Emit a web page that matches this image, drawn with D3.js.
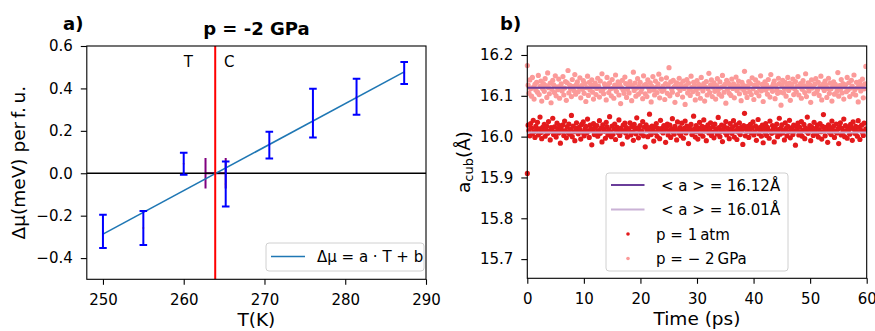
<!DOCTYPE html>
<html>
<head>
<meta charset="utf-8">
<script src="https://cdn.jsdelivr.net/npm/d3@7"></script>
<style>
  body { margin: 0; background: #fff; }
  svg { display: block; font-family: "DejaVu Sans", sans-serif; }
</style>
</head>
<body>
<svg id="chart" width="875" height="331"></svg>
<script>
// ---- panel a) chemical potential difference vs temperature ----
const tempK = [250, 255, 260, 265.2, 270.6, 276, 281.4, 287.3];
const deltaMu = [-0.274, -0.258, 0.045, -0.051, 0.133, 0.283, 0.361, 0.473];
const deltaMuErr = [0.078, 0.08, 0.052, 0.106, 0.063, 0.115, 0.085, 0.052];
const fitT = [250, 287.3];
const fitMu = [-0.287, 0.478];
const transitionT = 263.9;
const coexistT = [262.7, 265.2];
const coexistErr = 0.072;
const tempTicks = [250, 260, 270, 280, 290];
const muTicks = [-0.4, -0.2, 0, 0.2, 0.4, 0.6];

// ---- panel b) lattice parameter vs time ----
const timeStep = 0.15; // ps between samples
const meanNeg2GPa = 16.12;
const mean1atm = 16.01;
const baseNeg2GPa = 16.114;
const base1atm = 16.01;
// deviations in mÅ
const devNeg2GPa = [
  60, 12, -8, 25, 3, -15, 31, 7, -22, 14, 0, 19, -5, 36, -11, 9, 22, -27, 4, 16,
  -3, 28, 11, -18, 42, 6, -9, 17, -31, 2, 24, 13, -6, 35, -14, 8, 1, 27, -20, 10,
  15, -2, 33, -12, 5, 21, -25, 18, 48, -7, 12, 3, -16, 26, 9, -1, 38, -10, 14, 20,
  -4, 7, 30, -19, 11, 2, 23, -8, 16, -28, 6, 34, -13, 19, 0, 13, 25, -5, -22, 8,
  17, -11, 4, 29, 10, -17, 22, -2, 40, 1, -9, 15, 7, -24, 31, 11, -6, 18, 3, -14,
  26, 5, -20, 12, 37, -3, 9, 20, -12, 14, -33, 6, 24, 0, -8, 32, 16, -18, 2, 11,
  -7, 21, 13, -26, 8, 44, -1, 17, -15, 5, 28, -10, 10, 19, -4, 3, -21, 35, 12, -9,
  14, -16, 25, 6, -2, 18, -29, 9, 33, 0, -12, 22, 7, -6, 15, 39, -19, 4, 27, -3,
  10, 1, -23, 16, 30, -8, 12, 55, -14, 20, 3, -5, 24, 8, -30, 13, 18, -11, 6, 29,
  -1, 15, 9, -17, 22, 4, -35, 11, 26, -7, 17, 2, -13, 34, 7, -4, 19, 12, -24, 0,
  23, -9, 14, 5, -20, 31, 10, -2, 16, -27, 8, 21, -12, 3, 41, -6, 13, 25, -16, 7,
  18, -3, -22, 11, 28, 1, -10, 20, 6, -15, 36, 9, -5, 14, -32, 24, 2, 17, -8, 12,
  -13, 27, 4, 15, -19, 8, 32, -1, 11, 22, -9, 5, -26, 19, 13, 0, 46, -7, 10, -18,
  6, 21, -4, 16, -11, 30, 3, -23, 12, 25, -6, 9, 18, -14, 2, 35, -2, 14, -28, 7,
  20, 0, 13, -10, 26, 5, -17, 38, 8, -3, 15, 22, -21, 11, 1, -8, 29, 16, -5, -37,
  12, 24, -7, 4, 19, -15, 9, 31, -1, 17, -25, 6, 14, 27, -11, 3, 21, -4, 10, 33,
  -12, 8, 16, -20, 2, 23, 11, -6, 40, -16, 7, 18, -2, 13, -30, 25, 5, 9, -9, 15,
  28, -5, 1, 19, -13, 10, 34, -24, 6, 15, -1, 22, 12, -18, 4, 29, -8, 17, 3, -27,
  9, 20, -10, 14, 7, -3, 43, -15, 11, 2, 26, -7, 16, -22, 8, 13, -4, 31, 0, 18,
  -16, 5, 24, 10, -9, 37, 1, -12, 19, 6, -29, 14, 21, -2, 11, 27, -19, 3, 15, 58
];
const dev1atm = [
  -100, 18, 5, -8, 22, 11, -3, 30, 2, -12, 15, 7, 25, -6, 9, 38, 0, -15, 13, 4,
  20, -9, 8, 16, -2, 27, 3, -18, 12, 6, 35, -5, 14, 1, -11, 23, 9, -1, 17, -26,
  10, 3, 19, -7, 28, 5, -13, 14, 0, 21, -4, 8, 42, -10, 16, 2, -20, 11, 24, 6,
  -3, 13, 7, -16, 20, 1, 26, -8, 9, 15, -1, 33, 4, -12, 18, 10, -30, 6, 22, -5,
  12, 0, 17, -9, 5, 29, -2, 11, -23, 19, 8, 3, -14, 25, 14, -6, 7, 39, 1, -10,
  16, -4, 9, 21, -17, 6, 13, 0, 31, -7, 10, 2, -28, 18, 5, 23, -1, 12, -11, 8,
  4, 24, -6, 15, 1, -19, 20, 9, -3, 36, 11, -13, 7, 17, -2, 3, 27, -8, 13, -35,
  19, 6, -10, 12, 45, 2, -5, 16, 8, -21, 14, 0, 22, -9, 10, 5, -15, 30, 3, 11,
  -1, 17, 7, -24, 13, 21, -6, 4, 18, -12, 9, 34, 1, -4, 15, 8, -18, 26, 6, -2,
  12, -8, 23, 3, -14, 10, 28, -1, 16, 5, -27, 14, 7, 20, -5, 0, 40, 9, -11, 17,
  2, -16, 11, 25, -3, 8, 15, -9, 31, 4, 13, -20, 6, 19, -1, 10, 24, -7, 1, 14,
  -13, 21, 5, 9, -4, 37, 12, -10, 3, 18, -22, 7, 16, 0, 27, -6, 11, 2, -15, 22,
  8, -2, 14, 29, -11, 4, 19, -17, 10, 1, 24, -5, 13, 6, -29, 17, 47, -8, 9, 3,
  15, -12, 7, 20, -1, 11, 26, -6, 2, 16, -19, 9, 32, -3, 12, 5, -9, 18, -25, 10,
  0, 22, -7, 13, 6, -14, 28, 3, -2, 17, 9, -23, 14, 1, 21, -10, 7, 35, -4, 11,
  19, -1, 5, -18, 24, 10, -8, 15, 2, 30, -13, 8, 12, -5, 18, 4, -31, 16, 7, 23,
  -6, 13, 1, 27, -9, 6, 20, -15, 11, 3, 38, -2, 9, 17, -20, 14, 5, -7, 25, 0,
  10, -3, 18, -11, 7, 22, 2, -16, 15, 44, 4, -8, 13, 8, -24, 19, 1, 11, -5, 28,
  6, 16, -12, 3, 21, -1, 9, -27, 14, 24, -6, 10, 2, 33, -10, 17, 5, -14, 12, 7,
  -4, 20, 11, -19, 26, 8, -2, 15, 3, -9, 29, 13, -17, 6, 18, 0, -7, 23, 4, 9
];
const timeTicks = [0, 10, 20, 30, 40, 50, 60];
const aTicks = [15.7, 15.8, 15.9, 16.0, 16.1, 16.2];

const colorRed = '#e31a1c';
const colorPink = '#fb9a99';
const colorDarkPurple = '#6a3d9a';
const colorLightPurple = '#cab2d6';

const svg = d3.select('#chart');
const tickFont = 15;

function drawAxes(g, x, y, xTicks, yTicks, xFmt, yFmt) {
    const [x0, x1] = x.range();
    const [y0, y1] = y.range();

    g.append('g')
        .attr('transform', `translate(0,${y0})`)
        .call(d3.axisBottom(x).tickValues(xTicks).tickFormat(xFmt).tickSize(5.5).tickSizeOuter(0).tickPadding(10))
        .call(a => a.select('.domain').remove())
        .call(a => a.selectAll('text').attr('font-size', tickFont).attr('font-family', 'DejaVu Sans').attr('fill', '#000'))
        .call(a => a.selectAll('line').attr('stroke', '#000').attr('stroke-width', 1.1));

    g.append('g')
        .attr('transform', `translate(${x0},0)`)
        .call(d3.axisLeft(y).tickValues(yTicks).tickFormat(yFmt).tickSize(6).tickSizeOuter(0).tickPadding(8))
        .call(a => a.select('.domain').remove())
        .call(a => a.selectAll('text').attr('font-size', tickFont).attr('font-family', 'DejaVu Sans').attr('fill', '#000'))
        .call(a => a.selectAll('line').attr('stroke', '#000').attr('stroke-width', 1.1));

    g.append('rect')
        .attr('x', x0)
        .attr('y', y1)
        .attr('width', x1 - x0)
        .attr('height', y0 - y1)
        .attr('fill', 'none')
        .attr('stroke', '#000')
        .attr('stroke-width', 1.1);
}

// ================= panel a =================
const xa = d3.scaleLinear().domain([248, 290]).range([86.8, 426]);
const ya = d3.scaleLinear().domain([-0.5, 0.6]).range([279.3, 46]);
const ga = svg.append('g');

ga.append('defs').append('clipPath').attr('id', 'clipA')
    .append('rect')
        .attr('x', 86.8).attr('y', 46).attr('width', 426 - 86.8).attr('height', 279.3 - 46);

const plotA = ga.append('g').attr('clip-path', 'url(#clipA)');

// coexistence bar (purple)
plotA.append('line')
    .attr('x1', xa(coexistT[0])).attr('x2', xa(coexistT[1]))
    .attr('y1', ya(0)).attr('y2', ya(0))
    .attr('stroke', 'purple').attr('stroke-width', 2);
plotA.selectAll('line.coexist')
    .data(coexistT)
    .enter()
    .append('line')
        .attr('class', 'coexist')
        .attr('x1', d => xa(d)).attr('x2', d => xa(d))
        .attr('y1', ya(-coexistErr)).attr('y2', ya(coexistErr))
        .attr('stroke', 'purple').attr('stroke-width', 2);

// zero line
plotA.append('line')
    .attr('x1', xa(248)).attr('x2', xa(290))
    .attr('y1', ya(0)).attr('y2', ya(0))
    .attr('stroke', '#000').attr('stroke-width', 1.5);

// linear fit
plotA.append('path')
    .datum(d3.zip(fitT, fitMu))
    .attr('d', d3.line().x(d => xa(d[0])).y(d => ya(d[1])))
    .attr('fill', 'none')
    .attr('stroke', '#1f77b4')
    .attr('stroke-width', 1.6);

// center markers
plotA.selectAll('circle.mu')
    .data(tempK)
    .enter()
    .append('circle')
        .attr('class', 'mu')
        .attr('cx', d => xa(d))
        .attr('cy', (d, i) => ya(deltaMu[i]))
        .attr('r', 1)
        .attr('fill', '#ff7f0e');

// error bars
const bars = plotA.selectAll('g.err')
    .data(tempK)
    .enter()
    .append('g')
        .attr('class', 'err');

bars.append('line')
    .attr('x1', d => xa(d)).attr('x2', d => xa(d))
    .attr('y1', (d, i) => ya(deltaMu[i] - deltaMuErr[i]))
    .attr('y2', (d, i) => ya(deltaMu[i] + deltaMuErr[i]))
    .attr('stroke', 'blue').attr('stroke-width', 2);

[-1, 1].forEach(s => {
    bars.append('line')
        .attr('x1', d => xa(d) - 3.8).attr('x2', d => xa(d) + 3.8)
        .attr('y1', (d, i) => ya(deltaMu[i] + s * deltaMuErr[i]))
        .attr('y2', (d, i) => ya(deltaMu[i] + s * deltaMuErr[i]))
        .attr('stroke', 'blue').attr('stroke-width', 2);
});

// transition temperature
plotA.append('line')
    .attr('x1', xa(transitionT)).attr('x2', xa(transitionT))
    .attr('y1', ya(-0.5)).attr('y2', ya(0.6))
    .attr('stroke', 'red').attr('stroke-width', 2);

plotA.append('text')
    .attr('x', xa(260)).attr('y', ya(0.5))
    .attr('font-size', tickFont)
    .text('T');
plotA.append('text')
    .attr('x', xa(265)).attr('y', ya(0.5))
    .attr('font-size', tickFont)
    .text('C');

drawAxes(ga, xa, ya, tempTicks, muTicks, d3.format('d'), d3.format('.1f'));

// legend a
const legA = ga.append('g');
legA.append('rect')
    .attr('x', 266).attr('y', 243).attr('width', 158).attr('height', 28)
    .attr('rx', 3)
    .attr('fill', '#fff').attr('fill-opacity', 0.8)
    .attr('stroke', '#d0d0d0');
legA.append('line')
    .attr('x1', 271).attr('x2', 305)
    .attr('y1', 256.5).attr('y2', 256.5)
    .attr('stroke', '#1f77b4').attr('stroke-width', 1.6);
legA.append('text')
    .attr('x', 317).attr('y', 262)
    .attr('font-size', tickFont)
    .text('Δμ = a · T + b');

// labels a
ga.append('text')
    .attr('x', 256.4).attr('y', 35)
    .attr('text-anchor', 'middle')
    .attr('font-size', 18).attr('font-weight', 'bold')
    .text('p = -2 GPa');
ga.append('text')
    .attr('x', 63).attr('y', 30)
    .attr('font-size', 18).attr('font-weight', 'bold')
    .text('a)');
ga.append('text')
    .attr('x', 256.4).attr('y', 326)
    .attr('text-anchor', 'middle')
    .attr('font-size', 18.5)
    .text('T(K)');
ga.append('text')
    .attr('transform', 'translate(25,162.6) rotate(-90)')
    .attr('text-anchor', 'middle')
    .attr('font-size', 18.5)
    .text('Δμ(meV) per\u2009f.\u2009u.');

// ================= panel b =================
const xb = d3.scaleLinear().domain([0, 60]).range([527.3, 866.7]);
const yb = d3.scaleLinear().domain([15.653, 16.222]).range([278.3, 46]);
const gb = svg.append('g');

gb.append('defs').append('clipPath').attr('id', 'clipB')
    .append('rect')
        .attr('x', 527.3 - 3).attr('y', 46).attr('width', 866.7 - 527.3 + 3).attr('height', 278.3 - 46);

const plotB = gb.append('g').attr('clip-path', 'url(#clipB)');

plotB.selectAll('circle.neg2')
    .data(devNeg2GPa)
    .enter()
    .append('circle')
        .attr('class', 'neg2')
        .attr('cx', (d, i) => xb(i * timeStep))
        .attr('cy', d => yb(baseNeg2GPa + d / 1000))
        .attr('r', 2.6)
        .attr('fill', colorPink);

plotB.selectAll('circle.atm')
    .data(dev1atm)
    .enter()
    .append('circle')
        .attr('class', 'atm')
        .attr('cx', (d, i) => xb(i * timeStep))
        .attr('cy', d => yb(base1atm + d / 1000))
        .attr('r', 2.6)
        .attr('fill', colorRed);

plotB.append('line')
    .attr('x1', xb(0)).attr('x2', xb(60))
    .attr('y1', yb(meanNeg2GPa)).attr('y2', yb(meanNeg2GPa))
    .attr('stroke', colorDarkPurple).attr('stroke-width', 2);
plotB.append('line')
    .attr('x1', xb(0)).attr('x2', xb(60))
    .attr('y1', yb(mean1atm)).attr('y2', yb(mean1atm))
    .attr('stroke', colorLightPurple).attr('stroke-width', 2);

drawAxes(gb, xb, yb, timeTicks, aTicks, d3.format('d'), d3.format('.1f'));

// legend b
const legB = gb.append('g');
legB.append('rect')
    .attr('x', 606).attr('y', 173).attr('width', 182).attr('height', 98)
    .attr('rx', 3)
    .attr('fill', '#fff').attr('fill-opacity', 0.8)
    .attr('stroke', '#d0d0d0');

const legItems = [
    { kind: 'line', color: colorDarkPurple, label: '< a > = 16.12Å', tx: 661 },
    { kind: 'line', color: colorLightPurple, label: '< a > = 16.01Å', tx: 661 },
    { kind: 'dot', color: colorRed, label: 'p = 1\u2009atm', tx: 656 },
    { kind: 'dot', color: colorPink, label: 'p = − 2\u2009GPa', tx: 656 }
];
const legRowY = d3.scaleLinear().domain([0, 3]).range([185, 258.5]);

legItems.forEach((d, i) => {
    const cy = legRowY(i);
    if (d.kind === 'line') {
        legB.append('line')
            .attr('x1', 611).attr('x2', 644.5)
            .attr('y1', cy).attr('y2', cy)
            .attr('stroke', d.color).attr('stroke-width', 2);
    } else {
        legB.append('circle')
            .attr('cx', 628).attr('cy', cy)
            .attr('r', 1.8)
            .attr('fill', d.color);
    }
    legB.append('text')
        .attr('x', d.tx).attr('y', cy + 5.5)
        .attr('font-size', tickFont)
        .text(d.label);
});

// labels b
gb.append('text')
    .attr('x', 500).attr('y', 30)
    .attr('font-size', 18).attr('font-weight', 'bold')
    .text('b)');
gb.append('text')
    .attr('x', 697).attr('y', 325)
    .attr('text-anchor', 'middle')
    .attr('font-size', 18.5)
    .text('Time (ps)');

const ylabB = gb.append('text')
    .attr('transform', 'translate(470,162) rotate(-90)')
    .attr('text-anchor', 'middle')
    .attr('font-size', 18.5);
ylabB.append('tspan').text('a');
ylabB.append('tspan').attr('font-size', 13).attr('dy', 3).text('cub');
ylabB.append('tspan').attr('dy', -3).text('(Å)');
</script>
</body>
</html>
